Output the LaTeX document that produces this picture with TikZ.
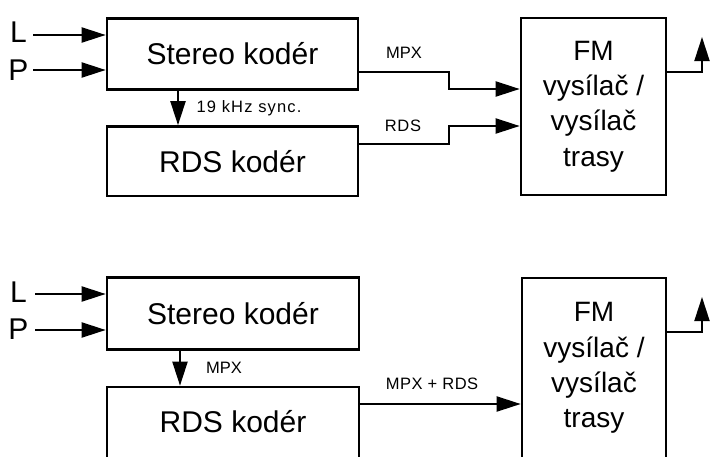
\documentclass[tikz,border=0pt]{standalone}
\usepackage{fontspec}
\setmainfont{Liberation Sans}
\usetikzlibrary{arrows.meta}
\begin{document}
\begin{tikzpicture}[x=1pt,y=-1pt,
  box/.style={draw, line width=2.6pt, inner sep=0pt, font=\fontsize{30}{36}\selectfont},
  fmbox/.style={draw, line width=2.6pt, inner sep=0pt, align=center, font=\fontsize{28}{35.3}\selectfont},
  arr/.style={line width=2pt, -{Triangle[length=24pt,width=15pt]}},
  lbl/.style={inner sep=0pt, font=\fontsize{16.5}{20}\selectfont},
  io/.style={inner sep=0pt, font=\fontsize{30}{36}\selectfont}]
\useasboundingbox (0,0) rectangle (710,456);
\clip (0,0) rectangle (710,456);
\fill[white] (0,0) rectangle (710,456);

% ---------- top diagram ----------
\node[box, minimum width=251pt, minimum height=71pt] (st1) at (232.5,54) {Stereo kodér};
\node[box, minimum width=251pt, minimum height=69.5pt] (rd1) at (232.5,161.25) {RDS kodér};
\node[fmbox, minimum width=145pt, minimum height=177pt] (fm1) at (593.5,106.5) {FM\\vysílač /\\vysílač\\trasy};

\node[io] (L1) at (18.5,32.5) {L};
\node[io] (P1) at (18.5,70) {P};
\coordinate (L1s) at (33,35);
\coordinate (P1s) at (33,70);
\draw[arr] (L1s) -- (L1s -| st1.west);
\draw[arr] (P1s) -- (P1s -| st1.west);

\coordinate (s1) at (178,0);
\draw[arr] (st1.south -| s1) -- (rd1.north -| s1);
\node[lbl] (sync) at (249,108) {\addfontfeature{LetterSpace=7}19 kHz sync.};

\coordinate (m1a) at (449,72);
\coordinate (m1b) at (449,89);
\draw[arr] (st1.east |- m1a) -- (m1a) -- (m1b) -- (m1b -| fm1.west);
\node[lbl] (mpx1) at (404,53) {MPX};

\coordinate (r1a) at (449,144);
\coordinate (r1b) at (449,126);
\draw[arr] (rd1.east |- r1a) -- (r1a) -- (r1b) -- (r1b -| fm1.west);
\node[lbl] (rds1) at (403,126) {\addfontfeature{LetterSpace=5}RDS};

\coordinate (o1a) at (702,72);
\coordinate (o1b) at (702,37);
\draw[arr] (fm1.east |- o1a) -- (o1a) -- (o1b);

% ---------- bottom diagram ----------
\node[box, minimum width=252pt, minimum height=72pt] (st2) at (233,313.5) {Stereo kodér};
\node[box, minimum width=252pt, minimum height=72pt, text depth=4pt] (rd2) at (233,423) {RDS kodér};
\node[fmbox, minimum width=144pt, minimum height=180pt] (fm2) at (594,368) {FM\\vysílač /\\vysílač\\trasy};

\node[io] (L2) at (18.5,292.5) {L};
\node[io] (P2) at (18.5,329) {P};
\coordinate (L2s) at (35,294);
\coordinate (P2s) at (35,330);
\draw[arr] (L2s) -- (L2s -| st2.west);
\draw[arr] (P2s) -- (P2s -| st2.west);

\coordinate (s2) at (180,0);
\draw[arr] (st2.south -| s2) -- (rd2.north -| s2);
\node[lbl] (mpx2) at (224,368) {MPX};

\coordinate (mr) at (0,404);
\draw[arr] (rd2.east |- mr) -- (fm2.west |- mr);
\node[lbl] (mpxrds) at (432,384) {\addfontfeature{LetterSpace=3}MPX + RDS};

\coordinate (o2a) at (702,332);
\coordinate (o2b) at (702,297);
\draw[arr] (fm2.east |- o2a) -- (o2a) -- (o2b);
\end{tikzpicture}
\end{document}
